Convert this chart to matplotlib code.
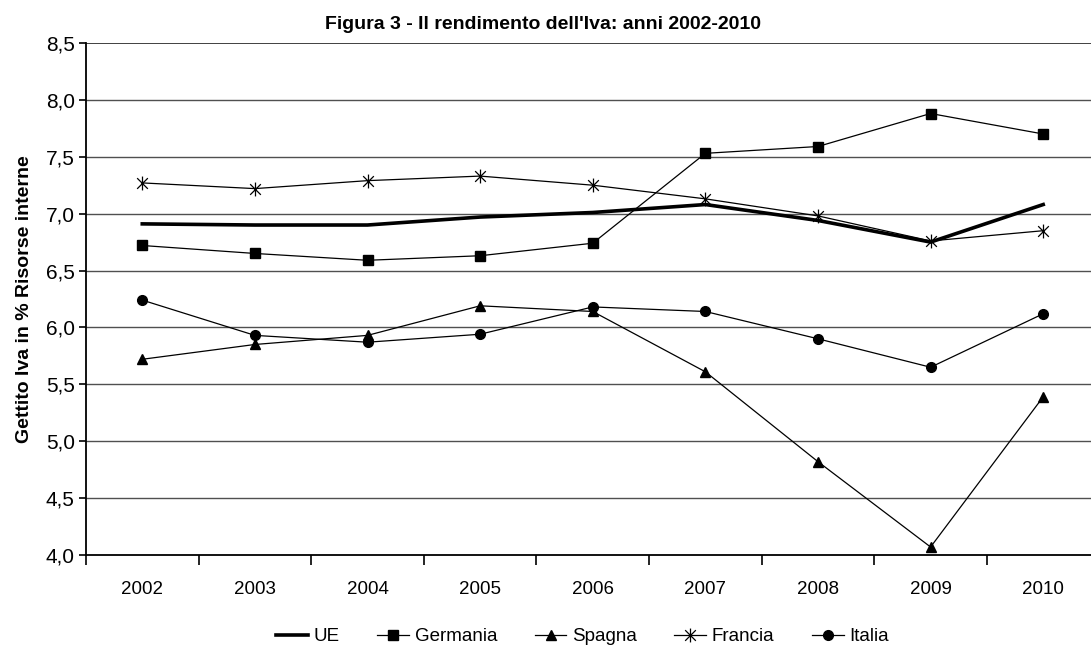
import matplotlib
matplotlib.use("Agg")
import matplotlib.pyplot as plt
from matplotlib.path import Path
from matplotlib.ticker import FuncFormatter, FixedLocator
from matplotlib import font_manager

anni = ["2002", "2003", "2004", "2005", "2006", "2007", "2008", "2009", "2010"]
ue = [6.91, 6.90, 6.90, 6.97, 7.01, 7.08, 6.94, 6.75, 7.08]
germania = [6.72, 6.65, 6.59, 6.63, 6.74, 7.53, 7.59, 7.88, 7.70]
spagna = [5.72, 5.85, 5.93, 6.19, 6.14, 5.61, 4.82, 4.07, 5.39]
francia = [7.27, 7.22, 7.29, 7.33, 7.25, 7.13, 6.98, 6.76, 6.85]
italia = [6.24, 5.93, 5.87, 5.94, 6.18, 6.14, 5.90, 5.65, 6.12]

names = {f.name for f in font_manager.fontManager.ttflist}
family = ["Liberation Sans Narrow", "Liberation Sans", "DejaVu Sans"]
family = [f for f in family if f in names] or ["DejaVu Sans"]
plt.rcParams["font.family"] = family

# asterisk marker: an X crossed by a vertical stroke
aster = Path(
    [(-1, -1), (1, 1), (-1, 1), (1, -1), (0, -1.3), (0, 1.3)],
    [Path.MOVETO, Path.LINETO, Path.MOVETO, Path.LINETO, Path.MOVETO, Path.LINETO],
)

fig = plt.figure(figsize=(10.91, 6.51), dpi=100)
ax = fig.add_axes([0.0788, 0.1475, 0.929, 0.7865])

x = list(range(len(anni)))
ax.plot(x, ue, color="black", lw=2.6, label="UE", zorder=5)
ax.plot(x, germania, color="black", lw=0.9, marker="s", ms=6.5, label="Germania", zorder=4)
ax.plot(x, spagna, color="black", lw=0.9, marker="^", ms=7, label="Spagna", zorder=4)
ax.plot(x, francia, color="black", lw=0.9, marker=aster, ms=10, mew=0.9,
        mfc="none", label="Francia", zorder=4)
ax.plot(x, italia, color="black", lw=0.9, marker="o", ms=7, label="Italia", zorder=4)

ax.set_xlim(-0.5, len(anni) - 0.5)
ax.set_ylim(4.0, 8.5)
yt = [4.0 + 0.5 * i for i in range(10)]
ax.yaxis.set_major_locator(FixedLocator(yt))
ax.yaxis.set_major_formatter(FuncFormatter(lambda v, p: f"{v:.1f}".replace(".", ",")))
ax.set_xticks(x)
ax.set_xticklabels(anni)
ax.set_xticks([i + 0.5 for i in range(-1, len(anni))], minor=True)
ax.tick_params(axis="x", which="major", length=0, pad=19, labelsize=13.5)
ax.tick_params(axis="x", which="minor", length=7, width=1.2, color="black")
ax.tick_params(axis="y", length=5, width=1.2, labelsize=15, pad=3)

for y in yt[1:-1]:
    ax.axhline(y, color="#505050", lw=1.0, zorder=1)
ax.axhline(yt[-1], color="#202020", lw=1.2, zorder=1)

for s in ("top", "right"):
    ax.spines[s].set_visible(False)
ax.spines["left"].set_linewidth(1.3)
ax.spines["bottom"].set_linewidth(1.3)

ax.set_ylabel("Gettito Iva in % Risorse interne", fontsize=14, fontweight="bold", labelpad=9)
fig.text(0.498, 0.962, "Figura 3 - Il rendimento dell'Iva: anni 2002-2010",
         ha="center", va="center", fontsize=14, fontweight="bold")

leg = fig.legend(loc="center", bbox_to_anchor=(0.534, 0.022), ncol=5, frameon=False,
                 fontsize=13.5, handlelength=1.7, handletextpad=0.3, columnspacing=2.0,
                 borderaxespad=0)

fig.savefig("out.png", dpi=100)
